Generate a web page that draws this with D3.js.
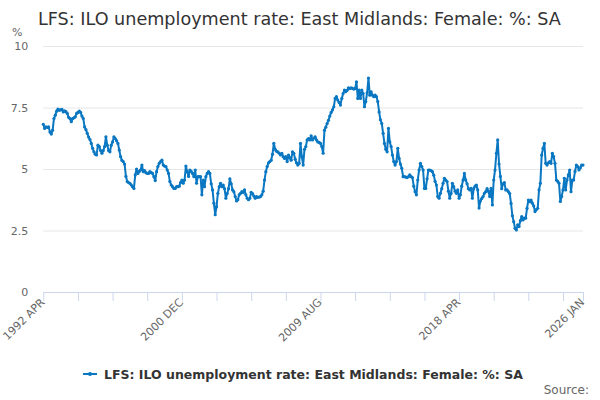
<!DOCTYPE html>
<html>
<head>
<meta charset="utf-8">
<script src="https://cdn.jsdelivr.net/npm/d3@7"></script>
<style>
  body { margin: 0; background: #fff; }
  text { font-family: "DejaVu Sans", Verdana, sans-serif; }
</style>
</head>
<body>
<div id="chart"></div>
<script>
//************ data ************//
var startYear = 1992, startMonth = 3; // 1992 APR, months counted from here
var monthNames = ["JAN","FEB","MAR","APR","MAY","JUN","JUL","AUG","SEP","OCT","NOV","DEC"];
var tickMonths = [0,26,52,78,104,130,156,182,208,234,260,286,312,338,364,390,405];
var labelMonths = [0,104,208,312,405];
var yTicks = [0, 2.5, 5, 7.5, 10];
var seriesName = "LFS: ILO unemployment rate: East Midlands: Female: %: SA";

// monthly values, 1992 APR .. 2026 JAN
var rate = [
  6.82,6.65,6.71,6.69,6.71,6.5,6.42,6.58,7.05,7.19,7.35,7.43,
  7.39,7.4,7.42,7.32,7.36,7.33,7.26,7.1,7.05,6.92,7.05,7.08,
  7.12,7.26,7.3,7.35,7.3,7.15,7.05,6.71,6.6,6.45,6.3,6.2,
  6.04,5.84,5.7,5.6,5.57,5.97,5.91,5.75,5.64,5.75,5.91,6.31,
  5.97,5.75,5.7,5.97,6.1,6.31,6.24,6.15,6.04,5.77,5.5,5.35,
  5.3,5.2,4.7,4.49,4.45,4.42,4.35,4.28,4.21,4.76,5.0,4.82,
  4.9,4.96,5.16,4.89,4.93,4.85,4.82,4.82,4.89,4.85,4.82,4.69,
  4.53,4.89,5.1,5.23,5.3,5.36,5.16,5.12,5.1,4.96,4.82,4.49,
  4.35,4.28,4.21,4.21,4.28,4.28,4.3,4.45,4.55,4.42,4.55,5.12,
  4.89,4.7,4.96,4.9,4.82,4.69,4.96,4.42,4.69,4.69,4.69,3.95,
  4.55,4.28,4.69,4.82,4.89,4.82,4.4,4.15,3.61,3.14,3.47,4.01,
  4.28,4.42,4.28,4.35,4.2,3.81,4.0,4.2,4.6,4.4,4.15,4.08,
  3.88,3.7,3.75,3.95,4.01,4.08,4.04,4.15,3.95,3.81,3.75,3.81,
  4.05,4.0,3.9,3.81,3.88,3.85,3.86,3.88,3.95,4.1,4.55,4.89,
  5.1,5.25,5.3,5.36,5.6,6.04,5.8,5.72,5.7,5.64,5.57,5.64,
  5.5,5.43,5.5,5.3,5.57,5.45,5.36,5.7,5.64,5.4,5.25,5.16,
  5.23,6.04,5.5,5.16,5.8,5.91,6.18,6.24,6.18,6.35,6.18,6.25,
  6.31,6.18,6.1,6.08,6.04,5.91,5.64,6.58,6.7,6.85,6.98,7.15,
  7.3,7.4,7.53,7.87,7.94,7.8,7.7,7.6,7.87,8.07,8.21,8.14,
  8.2,8.3,8.27,8.3,8.28,8.25,8.27,8.54,7.87,8.21,7.87,8.21,
  8.07,7.53,7.74,8.1,8.7,8.0,8.14,8.0,7.94,8.0,7.94,7.74,
  7.32,7.0,6.85,6.45,6.04,5.8,5.7,6.65,6.1,5.91,5.57,5.3,
  5.16,5.3,5.84,5.43,5.2,5.03,4.69,4.69,4.67,4.65,4.69,4.76,
  4.69,4.65,4.3,4.08,3.95,4.55,4.96,5.23,5.1,4.96,4.21,4.21,
  4.6,4.96,4.96,4.93,4.89,4.75,4.5,4.35,3.88,3.81,4.01,4.2,
  4.42,4.62,4.55,4.49,4.1,3.81,4.01,4.42,4.28,4.1,4.01,4.15,
  3.81,3.95,4.3,4.55,4.82,4.55,4.4,4.2,4.15,4.21,3.81,4.2,
  4.3,4.35,4.15,3.41,3.7,3.8,3.88,4.01,4.08,4.2,4.1,3.88,
  4.21,3.54,4.55,4.96,5.64,6.18,5.2,4.7,4.2,4.4,4.45,4.15,
  4.15,4.08,4.0,3.6,3.1,2.86,2.59,2.52,2.73,2.66,2.9,3.07,
  2.93,3.0,3.0,3.4,3.74,3.67,3.74,3.61,3.5,3.27,3.35,3.4,
  4.15,4.42,5.57,5.84,6.04,5.23,5.16,5.25,5.3,5.23,5.64,5.5,
  5.23,4.55,4.5,4.42,3.68,3.88,4.15,4.62,4.15,4.55,4.76,4.96,
  4.08,4.55,4.55,4.9,5.16,5.1,4.96,5.05,5.16,5.16
];

//************ svg + scales ************//
var width = 600, height = 400;
var plot = {left: 43.3, right: 583, top: 46, bottom: 292};
var lineColor = "#0a77c2";

var svg = d3.select("#chart").append("svg")
    .attr("width", width)
    .attr("height", height);

var x = d3.scaleLinear().domain([0, 405]).range([plot.left, plot.right]);
var y = d3.scaleLinear().domain([0, 10]).range([plot.bottom, plot.top]);

function monthLabel(m) {
  var total = startMonth + m;
  return (startYear + Math.floor(total / 12)) + " " + monthNames[total % 12];
}

// title
svg.append("text")
    .attr("x", 38)
    .attr("y", 25)
    .attr("fill", "#333")
    .style("font-size", "17.6px")
    .text(seriesName);

// y unit
svg.append("text")
    .attr("x", 12)
    .attr("y", 36)
    .attr("fill", "#666")
    .style("font-size", "11px")
    .text("%");

// gridlines + y labels
var yAxis = d3.axisLeft(y).tickValues(yTicks).tickSize(-(plot.right - plot.left)).tickPadding(15)
    .tickFormat(function(d) { return d; });
var gy = svg.append("g").attr("transform", "translate(" + plot.left + ",0)").call(yAxis);
gy.select(".domain").remove();
gy.selectAll(".tick line").attr("stroke", "#e6e6e6");
gy.selectAll(".tick text").attr("fill", "#666").style("font-size", "11px")
    .style("font-family", "DejaVu Sans, sans-serif").attr("dy", "0.35em");
gy.selectAll(".tick").filter(function(d) { return d === 0; }).select("line").remove();

// x axis
var xAxis = d3.axisBottom(x).tickValues(tickMonths).tickSize(9).tickFormat("");
var gx = svg.append("g").attr("transform", "translate(0," + plot.bottom + ")").call(xAxis);
gx.select(".domain").attr("stroke", "#ccd6eb").attr("d", "M" + plot.left + ",0.5H" + plot.right);
gx.selectAll(".tick line").attr("stroke", "#ccd6eb");

svg.append("g").selectAll("text")
  .data(labelMonths)
  .enter().append("text")
    .attr("transform", function(d) { return "translate(" + (x(d) + 2) + "," + (plot.bottom + 11) + ") rotate(-45)"; })
    .attr("text-anchor", "end")
    .attr("fill", "#666")
    .style("font-size", "11px")
    .text(monthLabel);

//************ series ************//
var line = d3.line()
    .x(function(d, i) { return x(i); })
    .y(function(d) { return y(d); });

svg.append("path")
    .datum(rate)
    .attr("fill", "none")
    .attr("stroke", lineColor)
    .attr("stroke-width", 2)
    .attr("stroke-linejoin", "round")
    .attr("d", line);

svg.append("g").selectAll("circle")
  .data(rate)
  .enter().append("circle")
    .attr("cx", function(d, i) { return x(i); })
    .attr("cy", function(d) { return y(d); })
    .attr("r", 1.6)
    .attr("fill", lineColor);

//************ legend + source ************//
var legend = svg.append("g").attr("transform", "translate(83,374)");
legend.append("line").attr("x1", 0).attr("x2", 14).attr("y1", 0).attr("y2", 0)
    .attr("stroke", lineColor).attr("stroke-width", 2);
legend.append("circle").attr("cx", 7).attr("cy", 0).attr("r", 2).attr("fill", lineColor);
legend.append("text")
    .attr("x", 21)
    .attr("y", 4.5)
    .attr("fill", "#333")
    .style("font-size", "12.5px")
    .style("font-weight", "bold")
    .text(seriesName);

svg.append("text")
    .attr("x", 589)
    .attr("y", 394)
    .attr("text-anchor", "end")
    .attr("fill", "#666")
    .style("font-size", "12px")
    .text("Source:");
</script>
</body>
</html>
